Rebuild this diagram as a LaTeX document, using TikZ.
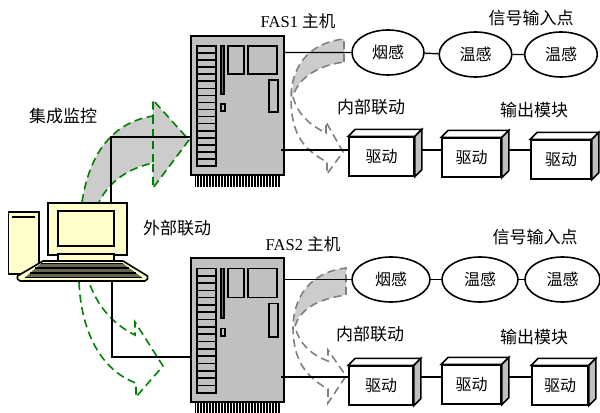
\documentclass[tikz,border=0pt]{standalone}
\usepackage{fontspec}
\setmainfont{Liberation Serif}
\newfontfamily\cjk{Noto Sans CJK SC}
\usetikzlibrary{shapes,calc}
\definecolor{cream}{HTML}{FFFFCC}
\definecolor{case}{HTML}{C0C0C0}
\definecolor{sweep}{HTML}{CCCCCC}
\definecolor{greenline}{HTML}{008000}
\begin{document}
\begin{tikzpicture}
[x=.75pt,y=-.75pt,
part/.style={draw=black,line width=1.2pt},
cabinet/.style={shape=rectangle,draw=black,line width=1.2pt,fill=case,minimum width=69.75pt,inner sep=0pt},
sensor/.style={shape=ellipse,draw=black,line width=1.2pt,fill=white,minimum width=54.5pt,minimum height=33.75pt,inner sep=0pt,font=\cjk\fontsize{12}{12}\selectfont},
driver/.style={shape=rectangle,draw=black,line width=1.2pt,fill=white,minimum height=29pt,inner sep=0pt,font=\cjk\fontsize{12}{12}\selectfont},
lbl/.style={inner sep=0pt,font=\cjk\fontsize{12.75}{13}\selectfont},
link/.style={draw=black,line width=1.1pt},
greenarrow/.style={draw=greenline,line width=1.2pt,dash pattern=on 6pt off 3.5pt},
greyarrow/.style={draw=black!50,line width=1.2pt,dash pattern=on 6pt off 3.5pt}]
\useasboundingbox (0,0) rectangle (600,413);
%% cabinets
\foreach \nm/\ty/\hh/\sy in {fasa/35/139/1,fasb/257/144/1.036}{
\fill[black] (195,\ty+\hh) rectangle (280,\ty+\hh+13);
\foreach \i in {0,...,27}
  \draw[white,line width=.55pt] (196.5+3*\i,\ty+\hh) -- +(0,13);
\node (\nm) [cabinet,minimum height=\hh*.75pt,anchor=north west] at (190,\ty) {};
\begin{scope}[shift={(190,\ty)},yscale=\sy]
\draw[part,fill=case] (7,11) rectangle (26,131);
\foreach \i in {1,...,16}
  \draw[part] (7,11+7.06*\i) -- (26,11+7.06*\i);
\draw[part,line width=1pt,fill=black!55] (31,11) rectangle (34,59);
\draw[part,fill=case] (31,69) rectangle (35,76);
\draw[part] (38,11) rectangle (54,39);
\draw[part] (58,11) rectangle (87,39);
\draw[part] (79,45) rectangle (88,77);
\end{scope}
}
%% sweeps beside the cabinets
\fill[sweep] (344,39) .. controls (315,42) and (292,60) .. (292,97)
  .. controls (297,80) and (315,66) .. (344,62) -- cycle;
\draw[greyarrow] (344,62) -- (344,39) .. controls (315,42) and (292,60) .. (291,97)
  .. controls (291,130) and (300,148) .. (327,162) -- (327,174) -- (343,152)
  -- (326,122) -- (326,133) .. controls (310,125) and (298,115) .. (293,97)
  .. controls (297,80) and (315,66) .. (344,62);
\fill[sweep] (346,268) .. controls (317,271) and (294,290) .. (294,327)
  .. controls (299,310) and (317,299) .. (346,295) -- cycle;
\draw[greyarrow] (346,295) -- (346,268) .. controls (317,271) and (294,290) .. (293,327)
  .. controls (293,355) and (302,375) .. (328,389) -- (328,403) -- (346,376)
  -- (328,350) -- (328,361) .. controls (312,355) and (300,345) .. (295,327)
  .. controls (299,310) and (317,299) .. (346,295);
%% sensors
\node (s1) [sensor,minimum width=54pt] at (388,52.5) {烟感};
\node (s2) [sensor] at (475.5,54.5) {温感};
\node (s3) [sensor] at (561,54.5) {温感};
\node (s4) [sensor,minimum width=58.5pt] at (391,279.5) {烟感};
\node (s5) [sensor,minimum width=57pt] at (480,279.5) {温感};
\node (s6) [sensor,minimum width=56.25pt] at (562.5,279.5) {温感};
%% drive modules
\node (d1) [driver,minimum width=48.75pt] at (381.5,156.5) {驱动};
\node (d2) [driver,minimum width=44.25pt] at (471.5,157.5) {驱动};
\node (d3) [driver,minimum width=45pt] at (561,159.5) {驱动};
\node (d4) [driver,minimum width=48pt] at (381,385.5) {驱动};
\node (d5) [driver,minimum width=44.25pt] at (471.5,384.5) {驱动};
\node (d6) [driver,minimum width=42pt] at (560,385.5) {驱动};
\foreach \d in {d1,d2,d3,d4,d5,d6}{
\filldraw[part,fill=white] (\d.north west) -- ++(7,-7) -- ++($(\d.north east)-(\d.north west)$) -- (\d.north east) -- cycle;
\filldraw[part,fill=case] (\d.north east) -- ++(7,-7) -- ++($(\d.south east)-(\d.north east)$) -- (\d.south east) -- cycle;
}
%% links
\coordinate (ta) at (285,52.5);
\coordinate (tb) at (281,150);
\coordinate (tc) at (285,279.5);
\coordinate (td) at (281,377);
\draw[link] (ta) -- (s1) -- (s2) -- (s3);
\draw[link] (tc) -- (s4) -- (s5) -- (s6);
\draw[link] (tb) -- (tb -| d1.west);
\draw[link] (td) -- (td -| d4.west);
\coordinate (m1) at (422,150);
\coordinate (m2) at (508,150);
\coordinate (m3) at (420,377);
\coordinate (m4) at (508,377);
\draw[link] (m1) -- (m1 -| d2.west);
\draw[link] (m2) -- (m2 -| d3.west);
\draw[link] (m3) -- (m3 -| d5.west);
\draw[link] (m4) -- (m4 -| d6.west);
%% computer
\fill[sweep] (82,202) .. controls (90,150) and (115,122) .. (153,116) -- (153,100)
  -- (189,140) -- (153,188) -- (153,163) .. controls (130,168) and (110,180) .. (99,202) -- cycle;
\draw[greenarrow] (82,202) .. controls (90,150) and (115,122) .. (153,116) -- (153,100)
  -- (189,140) -- (153,188) -- (153,163) .. controls (130,168) and (110,180) .. (99,202);
\draw[greenarrow] (153,116) -- (153,163);
\draw[part,fill=cream] (8.5,212) rectangle (39,274);
\fill[black] (12,216) rectangle (35,218.5);
\node (mon) [shape=rectangle,draw=black,line width=1.2pt,fill=cream,minimum width=59.25pt,minimum height=39pt,inner sep=0pt,anchor=north west] at (47,202) {};
\draw[part] (58,211) rectangle (114,246);
\draw[part,fill=cream] (58,254) rectangle (114,262);
\node (kbd) [inner sep=0pt,minimum width=97.5pt,minimum height=15pt,anchor=south] at (82.5,281) {};
\draw[part,fill=cream,line join=round] (43,261) -- (123,261) -- (147.5,276) -- (147.5,279) -- (145,281)
  -- (20,281) -- (17.5,279) -- (17.5,276) -- cycle;
\fill[black!60!cream] (41,263.5) -- (123,263.5) -- (142,277.5) -- (25,277.5) -- cycle;
\foreach \yy/\xa/\xb in {263.5/41/123,268/35/129,273/30/136,277.5/25/142}
  \draw[black,line width=1pt] (\xa,\yy) -- (\xb,\yy);
\draw[greenarrow] (79,282) .. controls (81,330) and (100,370) .. (136,383) -- (136,397)
  -- (163,366) -- (135,322) -- (135,335) .. controls (115,325) and (100,310) .. (90,285);
\coordinate (ua) at (111,137);
\coordinate (ub) at (112,357);
\draw[link] (ua |- mon.north) -- (ua) -- (ua -| fasa.west);
\draw[link] (ub |- kbd.south) -- (ub) -- (ub -| fasb.west);
%% labels
\node (t1) [lbl,font=\fontsize{12.4}{13}\selectfont] at (298,21) {FAS1 {\cjk 主机}};
\node (t2) [lbl,font=\fontsize{12.4}{13}\selectfont] at (303,244) {FAS2 {\cjk 主机}};
\node (t3) [lbl] at (531,18) {信号输入点};
\node (t4) [lbl] at (535,237) {信号输入点};
\node (t5) [lbl] at (371,107) {内部联动};
\node (t6) [lbl] at (370,334) {内部联动};
\node (t7) [lbl] at (534,110) {输出模块};
\node (t8) [lbl] at (534,337) {输出模块};
\node (t9) [lbl] at (63,116) {集成监控};
\node (t10) [lbl] at (177,228) {外部联动};
\end{tikzpicture}
\end{document}
